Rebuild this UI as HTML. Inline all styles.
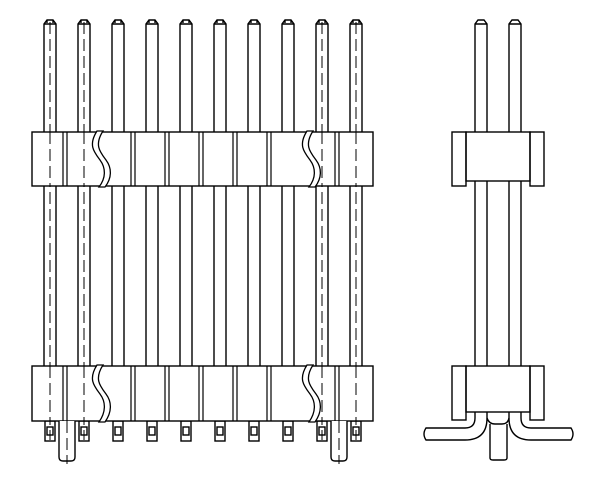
<!DOCTYPE html>
<html><head><style>body{margin:0;background:#fff}svg{display:block}</style></head><body>
<svg width="600" height="491" viewBox="0 0 600 491" xmlns="http://www.w3.org/2000/svg">
<defs>
<g id="pin">
<path d="M-6,134 V24 L-3,20 H3 L6,24 V134 M-3,20 L-3,23 M3,20 L3,23 M-6,24 H6" />
<path d="M-6,186 V366 M6,186 V366" />
<rect x="-5" y="421" width="10" height="20"/>
<rect x="-3" y="427" width="6" height="8"/>
</g>
<g id="dash"><path d="M0,22 V440" stroke-dasharray="12,5"/></g>
</defs>
<g fill="none" stroke="#000" stroke-width="1.4">
<use href="#pin" x="50"/><use href="#pin" x="84"/><use href="#pin" x="118"/><use href="#pin" x="152"/><use href="#pin" x="186"/>
<use href="#pin" x="220"/><use href="#pin" x="254"/><use href="#pin" x="288"/><use href="#pin" x="322"/><use href="#pin" x="356"/>
<g stroke-width="1"><use href="#dash" x="50"/><use href="#dash" x="84"/><use href="#dash" x="322"/><use href="#dash" x="356"/></g>
<g fill="#fff">
<rect x="32" y="132" width="341" height="54"/>
<rect x="32" y="366" width="341" height="55"/>
</g>
<g stroke-width="1.2">
<path d="M63,132V186M67,132V186M131,132V186M135,132V186M165,132V186M169,132V186M199,132V186M203,132V186M233,132V186M237,132V186M267,132V186M271,132V186M335,132V186M339,132V186"/>
<path d="M63,366V421M67,366V421M131,366V421M135,366V421M165,366V421M169,366V421M199,366V421M203,366V421M233,366V421M237,366V421M267,366V421M271,366V421M335,366V421M339,366V421"/>
</g>
<g stroke-width="1" stroke-dasharray="12,5"><path d="M50,132V186M84,132V186M322,132V186M356,132V186M50,366V421M84,366V421M322,366V421M356,366V421"/></g>
<g fill="#fff" stroke-width="1.3">
<path d="M97,131 C88,145 94,152 100,160 C106,168 106,178 99,187 L105,187 C112,178 112,168 106,160 C100,152 94,145 103,131 Z"/>
<path d="M307,131 C298,145 304,152 310,160 C316,168 316,178 309,187 L315,187 C322,178 322,168 316,160 C310,152 304,145 313,131 Z"/>
<path d="M97,365 C88,379 94,386 100,394 C106,402 106,412 99,422 L105,422 C112,412 112,402 106,394 C100,386 94,379 103,365 Z"/>
<path d="M307,365 C298,379 304,386 310,394 C316,402 316,412 309,422 L315,422 C322,412 322,402 316,394 C310,386 304,379 313,365 Z"/>
</g>
<path d="M59,421 V457 Q59,461 63,461 H71 Q75,461 75,457 V421" fill="#fff"/>
<path d="M331,421 V457 Q331,461 335,461 H343 Q347,461 347,457 V421" fill="#fff"/>
<g stroke-width="1" stroke-dasharray="12,5"><path d="M67,421V464M339,421V464"/></g>
<!-- side view -->
<path d="M475,132 V24 L478,20 H484 L487,24 V132 M475,24 H487"/>
<path d="M509,132 V24 L512,20 H518 L521,24 V132 M509,24 H521"/>
<path d="M475,181 V366 M487,181 V366 M509,181 V366 M521,181 V366"/>
<rect x="452" y="132" width="14" height="54"/>
<rect x="530" y="132" width="14" height="54"/>
<rect x="466" y="132" width="64" height="49"/>
<rect x="452" y="366" width="14" height="54"/>
<rect x="530" y="366" width="14" height="54"/>
<rect x="466" y="366" width="64" height="46"/>
<path d="M475,412 V418 Q475,428 465,428 H426 Q424,431 424,434 Q424,437 426,440 H465 Q487,440 487,418 V412"/>
<path d="M521,412 V418 Q521,428 531,428 H571 Q573,431 573,434 Q573,437 571,440 H531 Q509,440 509,418 V412"/>
<path d="M490,424 V458 Q490,460 493,460 H504 Q507,460 507,458 V424"/>
<path d="M487,418 Q489,424 495,424 H502 Q508,424 509,418"/>
</g>
</svg>
</body></html>
